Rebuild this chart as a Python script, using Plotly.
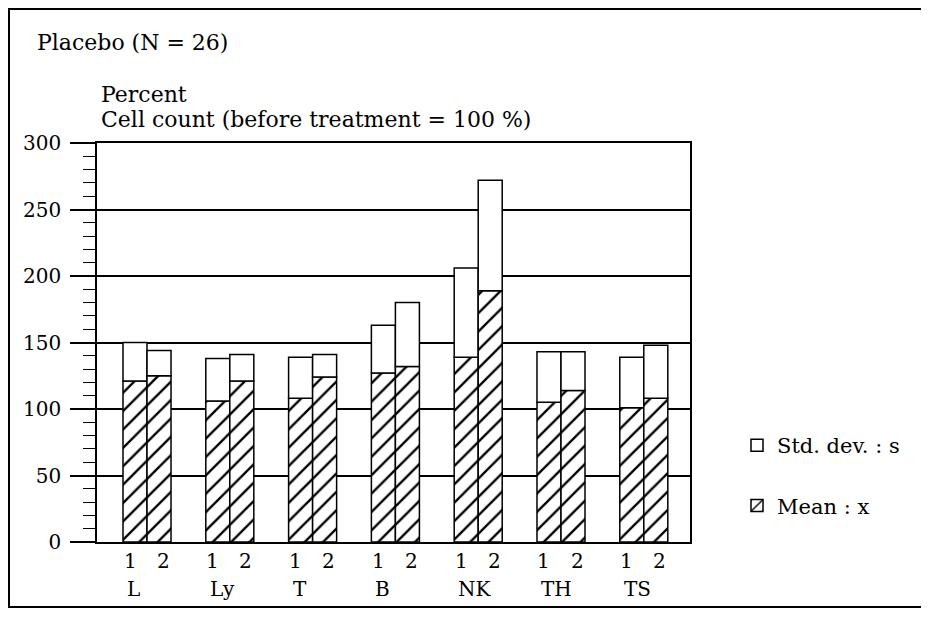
import numpy as np
import plotly.graph_objects as go

# ---- data ----
categories = ["L", "Ly", "T", "B", "NK", "TH", "TS"]
time_labels = ["1", "2"]
mean_1 = [121, 106, 108, 127, 139, 105, 101]
mean_2 = [125, 121, 124, 132, 189, 114, 108]
sd_1 = [29, 32, 31, 36, 67, 38, 38]
sd_2 = [19, 20, 17, 48, 83, 29, 40]
y_ticks = [0, 50, 100, 150, 200, 250, 300]

FONT = "DejaVu Serif"
OFF = 8  # page body margin
W, H = 932 - 2 * OFF, 617 - 2 * OFF
L_M, T_M = 97 - OFF, 143 - OFF
R_M = W - (690 - OFF)
B_M = H - (542 - OFF)
PW, PH = W - L_M - R_M, H - T_M - B_M

def px_x(px):  # page pixel -> paper x
    return (px - OFF - L_M) / PW

def px_y(py):  # page pixel -> paper y
    return (H - B_M - (py - OFF)) / PH

x_pos = np.arange(len(categories))
bargap = 0.42
bar_w = (1 - bargap) / 2

line = dict(color="black", width=1.5)
hatch = dict(shape="/", size=13, solidity=0.18, fgcolor="black", bgcolor="white",
             fgopacity=1)

fig = go.Figure()
means = [mean_1, mean_2]
sds = [sd_1, sd_2]
for k in range(2):
    fig.add_trace(go.Bar(
        x=x_pos, y=means[k], offsetgroup=str(k), name="Mean : x",
        marker=dict(color="white", line=line, pattern=hatch),
        showlegend=(k == 0), legendgroup="mean", legendrank=2,
    ))
    fig.add_trace(go.Bar(
        x=x_pos, y=sds[k], base=means[k], offsetgroup=str(k), name="Std. dev. : s",
        marker=dict(color="white", line=line),
        showlegend=(k == 0), legendgroup="sd", legendrank=1,
    ))

ann = []
for i, c in enumerate(categories):
    for k, t in enumerate(time_labels):
        xc = i + (k - 0.5) * bar_w
        ann.append(dict(x=xc, y=px_y(561), xref="x", yref="paper", text=t,
                        showarrow=False, xanchor="center", yanchor="middle",
                        xshift=(-5 if k == 0 else 4),
                        font=dict(family=FONT, size=20, color="black")))
    ann.append(dict(x=i - bar_w, y=px_y(589), xref="x", yref="paper", text=c,
                    showarrow=False, xanchor="left", yanchor="middle", xshift=2,
                    font=dict(family=FONT, size=20, color="black")))

ann.append(dict(x=px_x(35), y=px_y(42), xref="paper", yref="paper",
                text="Placebo (N = 26)", showarrow=False, xanchor="left", yanchor="middle",
                font=dict(family=FONT, size=22, color="black")))
ann.append(dict(x=px_x(99), y=px_y(94), xref="paper", yref="paper",
                text="Percent", showarrow=False, xanchor="left", yanchor="middle",
                font=dict(family=FONT, size=22, color="black")))
ann.append(dict(x=px_x(99), y=px_y(120), xref="paper", yref="paper",
                text="Cell count (before treatment = 100 %)", showarrow=False,
                xanchor="left", yanchor="middle",
                font=dict(family=FONT, size=22, color="black")))

fx0, fx1 = px_x(9), px_x(921)
fy0, fy1 = px_y(607), px_y(9)
frame_path = f"M {fx1},{fy1} L {fx0},{fy1} L {fx0},{fy0} L {fx1},{fy0}"

fig.update_layout(
    width=W, height=H,
    margin=dict(l=L_M, r=R_M, t=T_M, b=B_M),
    paper_bgcolor="white", plot_bgcolor="white",
    barmode="group", bargap=bargap, bargroupgap=0,
    font=dict(family=FONT, size=20, color="black"),
    annotations=ann,
    legend=dict(x=px_x(737), y=px_y(425), xanchor="left", yanchor="top",
                font=dict(family=FONT, size=21, color="black"),
                tracegroupgap=30, bgcolor="rgba(0,0,0,0)", traceorder="grouped"),
    shapes=[dict(type="path", xref="paper", yref="paper", path=frame_path,
                 line=dict(color="black", width=2), fillcolor="rgba(0,0,0,0)",
                 layer="below")],
)
fig.update_xaxes(range=[-0.604, 6.558], showgrid=False, zeroline=False,
                 showline=True, linecolor="black", linewidth=1.5, mirror=True,
                 showticklabels=False, ticks="")
fig.update_yaxes(range=[0, 300], tickvals=y_ticks, showgrid=True, gridcolor="black",
                 gridwidth=1.8, zeroline=False, showline=True, linecolor="black",
                 linewidth=1.5, mirror=True, ticks="outside", ticklen=25,
                 tickcolor="black", tickwidth=1.5, ticklabelstandoff=5,
                 tickfont=dict(family=FONT, size=20, color="black"),
                 minor=dict(dtick=10, ticks="outside", ticklen=12, tickcolor="black",
                            tickwidth=1.2, showgrid=False))

fig.write_html("out.html")
